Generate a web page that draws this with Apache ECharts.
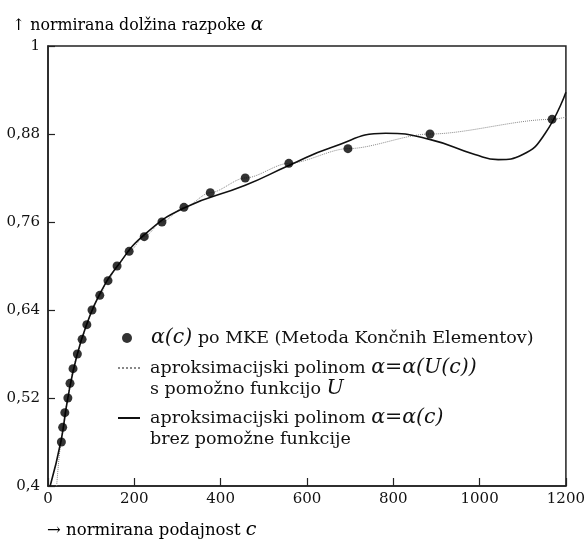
<!DOCTYPE html>
<html>
<head>
<meta charset="utf-8">
<script src="https://cdn.jsdelivr.net/npm/echarts@6/dist/echarts.min.js"></script>
<style>
html,body{margin:0;padding:0;background:#fff;}
#chart{width:588px;height:539px;}
</style>
</head>
<body>
<div id="chart"></div>
<script>
// FEM points alpha(c)
var dotC = [31, 34, 39, 46, 51, 58, 68, 79, 90, 102, 120, 139, 160, 188, 223, 264, 315, 376, 457, 558, 695, 885, 1168];
var dotA = [0.46, 0.48, 0.50, 0.52, 0.54, 0.56, 0.58, 0.60, 0.62, 0.64, 0.66, 0.68, 0.70, 0.72, 0.74, 0.76, 0.78, 0.80, 0.82, 0.84, 0.86, 0.88, 0.90];
// approximation polynomial alpha = alpha(U(c)) (dotted)
var uC = [20, 31, 34, 39, 46, 51, 58, 68, 79, 90, 102, 120, 139, 160, 188, 223, 264, 315, 376, 457, 558, 695, 885, 1168, 1200];
var uA = [0.40, 0.46, 0.48, 0.50, 0.52, 0.54, 0.56, 0.58, 0.60, 0.62, 0.64, 0.66, 0.68, 0.70, 0.72, 0.74, 0.76, 0.78, 0.80, 0.82, 0.84, 0.86, 0.88, 0.90, 0.903];
// approximation polynomial alpha = alpha(c) (solid)
var pC = [5, 30, 46, 67, 90, 120, 161, 224, 315, 457, 558, 658, 782, 882, 989, 1043, 1100, 1151, 1200];
var pA = [0.40, 0.461, 0.520, 0.578, 0.621, 0.662, 0.700, 0.743, 0.779, 0.810, 0.837, 0.862, 0.881, 0.873, 0.852, 0.845, 0.852, 0.880, 0.937];
// axes
var xTicks = [0, 200, 400, 600, 800, 1000, 1200];
var yTicks = [0.4, 0.52, 0.64, 0.76, 0.88, 1];

function zip(a, b) { return a.map(function (v, i) { return [v, b[i]]; }); }

var SERIF = 'DejaVu Serif';
var chart = echarts.init(document.getElementById('chart'));
var rich = {
  t: { fontFamily: SERIF, fontSize: 17.5, lineHeight: 21, color: '#111' },
  i: { fontFamily: SERIF, fontStyle: 'italic', fontSize: 20.5, lineHeight: 21, color: '#111' },
  a: { fontFamily: SERIF, fontSize: 16.5, lineHeight: 20, color: '#111' },
  ai: { fontFamily: SERIF, fontStyle: 'italic', fontSize: 19, lineHeight: 20, color: '#111' },
  h: { fontFamily: SERIF, fontSize: 15.8, lineHeight: 20, color: '#111' },
  hi: { fontFamily: SERIF, fontStyle: 'italic', fontSize: 18.5, lineHeight: 20, color: '#111' }
};
var legendText = {
  'MKE': '{i|\u03b1(c)}{t| po MKE (Metoda Kon\u010dnih Elementov)}',
  'U': '{t|aproksimacijski polinom }{i|\u03b1=\u03b1(U(c))}\n{t|s pomo\u017eno funkcijo }{i|U}',
  'C': '{t|aproksimacijski polinom }{i|\u03b1=\u03b1(c)}\n{t|brez pomo\u017ene funkcije}'
};
function mkLegend(name, left, top, padTop, padLeft, isDot) {
  return {
    orient: 'vertical', left: left, top: top, itemWidth: 22, itemHeight: 10,
    data: [isDot ? { name: name, icon: 'circle' } : { name: name }],
    itemStyle: isDot ? {} : { opacity: 0 },
    textStyle: { rich: rich, padding: [padTop, 0, 0, padLeft] },
    formatter: function (n) { return legendText[n]; }
  };
}

chart.setOption({
  animation: false,
  backgroundColor: '#fff',
  grid: { left: 48, right: 20, top: 46, bottom: 53, show: true, borderColor: '#222', borderWidth: 1.5, backgroundColor: 'transparent' },
  xAxis: {
    type: 'value', min: xTicks[0], max: xTicks[xTicks.length - 1], interval: 200,
    axisLine: { show: true, lineStyle: { color: '#222', width: 1.5 } },
    axisTick: { show: true, inside: true, length: 8, lineStyle: { color: '#222', width: 1.2 } },
    axisLabel: { color: '#111', fontFamily: SERIF, fontSize: 15, margin: 6, formatter: function (v) { return String(v); } },
    splitLine: { show: false }
  },
  yAxis: {
    type: 'value', min: yTicks[0], max: yTicks[yTicks.length - 1], interval: 0.12,
    axisLine: { show: true, lineStyle: { color: '#222', width: 1.5 } },
    axisTick: { show: true, inside: true, length: 7, lineStyle: { color: '#222', width: 1.2 } },
    axisLabel: {
      color: '#111', fontFamily: SERIF, fontSize: 15, margin: 8,
      formatter: function (v) { return String(+v.toFixed(2)).replace('.', ','); }
    },
    splitLine: { show: false }
  },
  legend: [
    mkLegend('MKE', 117, 323, 0, 8, true),
    mkLegend('U', 112, 353, 21, 5, false),
    mkLegend('C', 112, 403, 21, 5, false)
  ],
  graphic: [
    { type: 'text', left: 12, top: 16, style: { text: '{h|\u2191 normirana dol\u017eina razpoke }{hi|\u03b1}', rich: rich } },
    { type: 'text', left: 47, top: 521, style: { text: '{a|\u2192 normirana podajnost }{ai|c}', rich: rich } }
  ],
  series: [
    {
      name: 'U', type: 'line', data: zip(uC, uA), showSymbol: false, symbol: 'none',
      smooth: 0.3, smoothMonotone: 'x',
      lineStyle: { type: 'dotted', width: 1, color: '#888' }, itemStyle: { color: '#888' }, z: 2
    },
    {
      name: 'C', type: 'line', data: zip(pC, pA), showSymbol: false, symbol: 'none',
      smooth: 0.5,
      lineStyle: { width: 1.6, color: '#111' }, itemStyle: { color: '#111' }, z: 3
    },
    {
      name: 'MKE', type: 'scatter', data: zip(dotC, dotA), symbol: 'circle', symbolSize: 9,
      itemStyle: { color: '#000' }, z: 4
    }
  ]
});
</script>
</body>
</html>
